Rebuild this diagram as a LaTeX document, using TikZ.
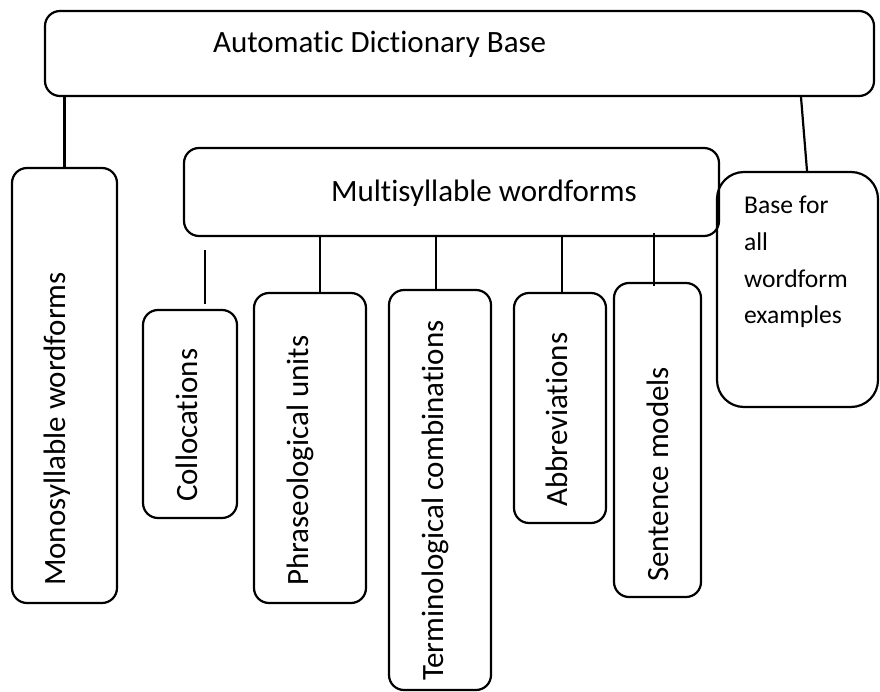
\documentclass[tikz,border=0pt]{standalone}
\usepackage{fontspec}
\setmainfont{Carlito}[Ligatures=CommonOff]

\begin{document}
\begin{tikzpicture}[x=1pt, y=-1pt, line width=2.2pt,
  frame/.style={draw, rounded corners=15pt, inner sep=0pt},
  txt/.style={inner sep=0pt, font=\fontsize{31}{37}\selectfont},
  vtxt/.style={txt, rotate=90, anchor=base west},
  note/.style={inner sep=0pt, align=left, font=\fontsize{25.6}{36.7}\selectfont}]
\useasboundingbox (0,0) rectangle (880,692);

% top level
\node[frame, minimum width=829pt, minimum height=85pt] (adb) at (459.5,53.5) {};
\node[txt, anchor=base west] (adb-t) at (212,53) {Automatic Dictionary Base};

% first branch
\node[frame, minimum width=105pt, minimum height=435pt] (mono) at (64.5,385.5) {};
\node[vtxt] (mono-t) at (65,587) {Monosyllable wordforms};

\node[frame, minimum width=535pt, minimum height=88pt] (multi) at (451.5,192) {};
\node[txt, anchor=base west] (multi-t) at (330,202) {Multisyllable wordforms};

\node[frame, rounded corners=27pt, minimum width=161pt, minimum height=235pt] (base) at (797.5,289.5) {};
\node[note, anchor=north west] (base-t) at (743,195) {Base for\\all\\wordform\\examples};

% kinds of multisyllable wordforms
\node[frame, minimum width=94pt, minimum height=208pt] (coll) at (190,414) {};
\node[vtxt] (coll-t) at (197,503) {Collocations};

\node[frame, minimum width=112pt, minimum height=310pt] (phr) at (310,448) {};
\node[vtxt] (phr-t) at (308,587) {Phraseological units};

\node[frame, minimum width=102pt, minimum height=400pt] (term) at (440,490) {};
\node[vtxt] (term-t) at (443,682) {Terminological combinations};

\node[frame, minimum width=92pt, minimum height=230pt] (abbr) at (560,408) {};
\node[vtxt] (abbr-t) at (567,508) {Abbreviations};

\node[frame, minimum width=87pt, minimum height=314pt] (sent) at (657.5,440) {};
\node[vtxt] (sent-t) at (668,583) {Sentence models};

% connectors
\draw (adb.south -| mono.north) -- (mono.north);
\draw ([xshift=341.5pt]adb.south) -- ([xshift=9.5pt]base.north);
\draw[shorten <=13pt, shorten >=5pt] ([xshift=-246.5pt]multi.south) -- ([xshift=15pt]coll.north);
\draw ([xshift=-131.5pt]multi.south) -- ([xshift=10pt]phr.north);
\draw ([xshift=-15.5pt]multi.south) -- ([xshift=-4pt]term.north);
\draw ([xshift=110.5pt]multi.south) -- ([xshift=2pt]abbr.north);
\draw[shorten <=-4pt, shorten >=-4pt] ([xshift=202.5pt]multi.south) -- ([xshift=-3.5pt]sent.north);
\end{tikzpicture}
\end{document}
